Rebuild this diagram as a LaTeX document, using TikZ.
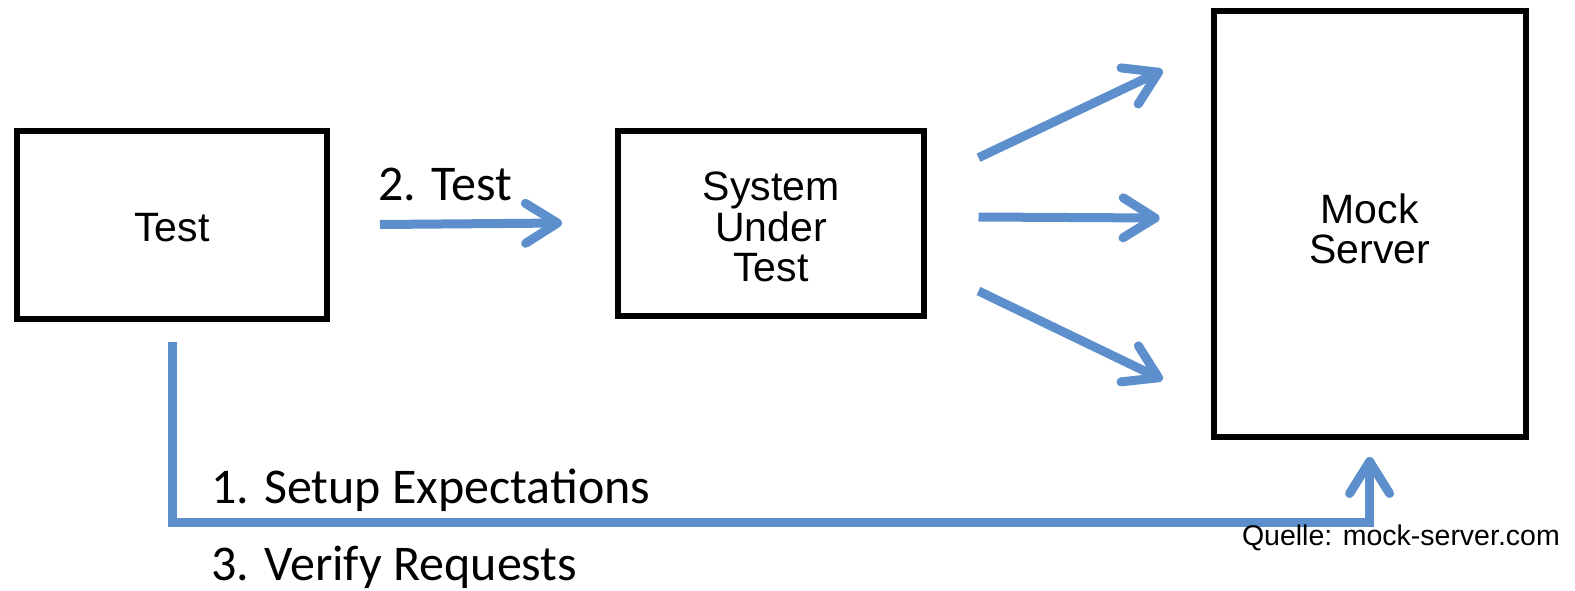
\documentclass[tikz,border=0pt]{standalone}
\usepackage{fontspec}
\newfontfamily\calib{Carlito}
\newfontfamily\arialf{Liberation Sans}
\usetikzlibrary{arrows.meta,calc}
\definecolor{arrblue}{RGB}{92,143,204}
\begin{document}
\begin{tikzpicture}[x=1pt,y=-1pt,
  box/.style={draw=black, line width=6pt, inner sep=0pt},
  boxtext/.style={font=\arialf\fontsize{41}{40.5}\selectfont, align=center},
  arr/.style={draw=arrblue, line width=9pt,
    -{Straight Barb[length=32pt,width=40pt,round]}},
  lbl/.style={font=\calib\fontsize{50}{60}\selectfont, anchor=west, inner sep=0pt}
]
\useasboundingbox (0,0) rectangle (1575,590);

\node[box, minimum width=310pt, minimum height=188pt,
  label={[boxtext, yshift=-3pt]center:Test}] (test) at (172,224.5) {};
\node[box, minimum width=306pt, minimum height=185pt,
  label={[boxtext, yshift=-4pt]center:System\\Under\\Test}] (sut) at (771,223) {};
\node[box, minimum width=312pt, minimum height=426pt,
  label={[boxtext, yshift=-5pt]center:Mock\\Server}] (mock) at (1369.6,224) {};

\draw[arr] ($(test.east)+(50,0)$) -- ($(sut.west)+(-53,0)$);
\draw[arr] ($(sut.east)+(51.5,-65.3)$) -- ($(mock.west)+(-48,-153.7)$);
\draw[arr] ($(sut.east)+(51.5,-6)$) -- ($(mock.west)+(-51,-6)$);
\draw[arr] ($(sut.east)+(51.5,68)$) -- ($(mock.west)+(-48,155.7)$);
\draw[arr] ($(test.south)+(0,20)$) |- ($(mock.south)+(0,82.5)$) -- ($(mock.south)+(0,17)$);

\node[lbl] (l2) at (378,184) {2. Test};
\node[lbl] (l1) at (211,490) {1. Setup Expectations};
\node[lbl] (l3) at (211,567) {3. Verify Requests};
\node[font=\arialf\fontsize{28.5}{30}\selectfont, anchor=east, inner sep=0pt] (src) at (1560,538) {Quelle: mock-server.com};
\end{tikzpicture}
\end{document}
